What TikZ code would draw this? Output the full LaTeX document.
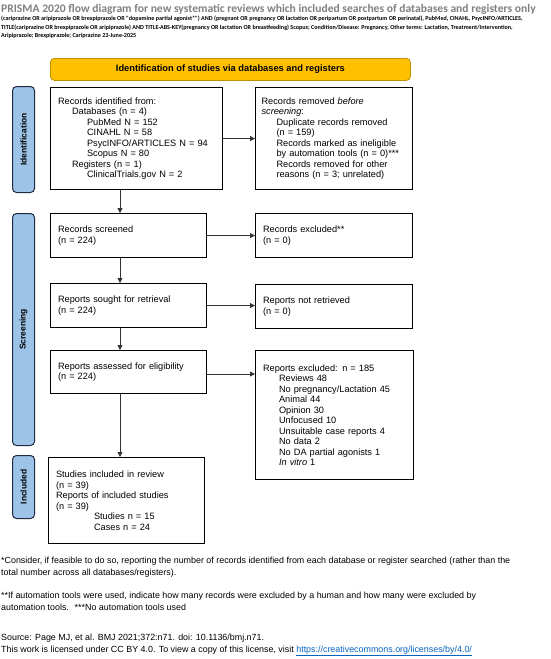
\documentclass[tikz,border=0pt]{standalone}
\usepackage{fontspec}
\setmainfont{Liberation Sans}
\newfontfamily\calib{Carlito}
\usetikzlibrary{arrows.meta}
\definecolor{titlegray}{HTML}{808080}
\definecolor{hdrfill}{HTML}{FFC000}
\definecolor{hdrdraw}{HTML}{BF9000}
\definecolor{barfill}{HTML}{9DC3E6}
\definecolor{bardraw}{HTML}{1F2A44}
\definecolor{linkblue}{HTML}{0563C1}
\definecolor{arrgray}{HTML}{333333}
\begin{document}
\begin{tikzpicture}[x=1pt,y=-1pt,
  box/.style={draw=black, line width=1.1pt, anchor=north west, align=left, inner xsep=7.5pt, inner ysep=3pt,
    font=\fontsize{9.2}{10.5}\selectfont},
  bar/.style={draw=bardraw, fill=barfill, line width=1pt, rounded corners=4pt, anchor=north west,
    minimum width=22, inner sep=0pt},
  barlabel/.style={rotate=90, font=\bfseries\fontsize{8.4}{9}\selectfont},
  arr/.style={draw=arrgray, line width=0.8pt, -{Triangle[length=5pt,width=5pt]}},
  foot/.style={anchor=base west, inner sep=0pt, font=\fontsize{8.9}{10}\selectfont},
  sub/.style={anchor=base west, inner sep=0pt, font=\calib\bfseries\fontsize{6.1}{7}\selectfont}
  ]
\useasboundingbox (0,0) rectangle (550,659);

% title
\node[anchor=base west, inner sep=0pt, text=titlegray, font=\calib\bfseries\fontsize{11.6}{13}\selectfont] (title) at (1,12.5) {PRISMA 2020 flow diagram for new systematic reviews which included searches of databases and registers only};
\node[sub] (s1) at (1,20.5) {(cariprazine OR aripiprazole OR brexpiprazole OR "dopamine partial agonist*") AND (pregnant OR pregnancy OR lactation OR peripartum OR postpartum OR perinatal), PubMed, CINAHL, PsycINFO/ARTICLES,};
\node[sub] (s2) at (1,29) {TITLE(cariprazine OR brexpiprazole OR aripiprazole) AND TITLE-ABS-KEY(pregnancy OR lactation OR breastfeeding) Scopus; Condition/Disease: Pregnancy, Other terms: Lactation, Treatment/Intervention,};
\node[sub] (s3) at (1,37.5) {Aripiprazole; Brexpiprazole; Cariprazine 23-June-2025};

% header
\node[draw=hdrdraw, fill=hdrfill, line width=0.8pt, rounded corners=4pt, anchor=north west,
  minimum width=360, minimum height=22, inner sep=0pt, font=\bfseries\fontsize{9.3}{10}\selectfont] (hdr) at (50,58)
  {Identification of studies via databases and registers};

% side bars
\node[bar, minimum height=106] (bid) at (12,86) {};
\node[barlabel] at (bid.center) {Identification};
\node[bar, minimum height=232] (bsc) at (12,213) {};
\node[barlabel] at (bsc.center) {Screening};
\node[bar, minimum height=63] (bin) at (12,455) {};
\node[barlabel] at (bin.center) {Included};

% left column
\node[box, minimum width=172, minimum height=102, text width=157pt] (id) at (50,87) {%
Records identified from:\\
\hspace*{14pt}Databases (n = 4)\\
\hspace*{29pt}PubMed N = 152\\
\hspace*{29pt}CINAHL N = 58\\
\hspace*{29pt}PsycINFO/ARTICLES N = 94\\
\hspace*{29pt}Scopus N = 80\\
\hspace*{14pt}Registers (n = 1)\\
\hspace*{29pt}ClinicalTrials.gov N = 2};

\node[box, minimum width=156, minimum height=44, text width=141pt] (scr) at (50,213) {Records screened\\(n = 224)};
\node[box, minimum width=156, minimum height=44, text width=141pt] (sou) at (50,283) {Reports sought for retrieval\\(n = 224)};
\node[box, minimum width=156, minimum height=43, text width=141pt] (ass) at (50,350) {Reports assessed for eligibility\\(n = 224)};
\node[box, minimum width=156, minimum height=86, text width=141pt] (inc) at (48,457) {%
Studies included in review\\
(n = 39)\\
Reports of included studies\\
(n = 39)\\
\hspace*{38pt}Studies n = 15\\
\hspace*{38pt}Cases n = 24};

% right column
\node[box, inner xsep=6pt, minimum width=157, minimum height=102, text width=145pt] (rem) at (255,87) {%
Records removed \textit{before}\\
\textit{screening}:\\
\hspace*{15pt}Duplicate records removed\\
\hspace*{15pt}(n = 159)\\
\hspace*{15pt}Records marked as ineligible\\
\hspace*{15pt}by automation tools (n = 0)***\\
\hspace*{15pt}Records removed for other\\
\hspace*{15pt}reasons (n = 3; unrelated)};
\node[box, minimum width=157, minimum height=44, text width=142pt] (exc) at (255,213) {Records excluded**\\(n = 0)};
\node[box, minimum width=157, minimum height=44, text width=142pt] (nre) at (255,284) {Reports not retrieved\\(n = 0)};
\node[box, minimum width=158, minimum height=129, text width=143pt] (rex) at (255,350) {%
Reports excluded: n = 185\\
\hspace*{16pt}Reviews 48\\
\hspace*{16pt}No pregnancy/Lactation 45\\
\hspace*{16pt}Animal 44\\
\hspace*{16pt}Opinion 30\\
\hspace*{16pt}Unfocused 10\\
\hspace*{16pt}Unsuitable case reports 4\\
\hspace*{16pt}No data 2\\
\hspace*{16pt}No DA partial agonists 1\\
\hspace*{16pt}\textit{In vitro} 1};

% arrows
\coordinate (ax) at (120,0);
\draw[arr] (id.south -| ax) -- (scr.north -| ax);
\draw[arr] (scr.south -| ax) -- (sou.north -| ax);
\draw[arr] (sou.south -| ax) -- (ass.north -| ax);
\draw[arr] (ass.south -| ax) -- (inc.north -| ax);
\draw[arr] (id.east) -- (rem.west);
\draw[arr] (scr.east) -- (exc.west);
\draw[arr] (sou.east) -- (nre.west |- sou.east);
\coordinate (ay) at (0,374);
\draw[arr] (ass.east |- ay) -- (rex.west |- ay);

% footnotes
\node[foot] (f1) at (1,563) {*Consider, if feasible to do so, reporting the number of records identified from each database or register searched (rather than the};
\node[foot] (f2) at (1,575) {total number across all databases/registers).};
\node[foot] (f3) at (1,598) {**If automation tools were used, indicate how many records were excluded by a human and how many were excluded by};
\node[foot] (f4) at (1,610) {automation tools. \ ***No automation tools used};
\node[foot] (f5) at (1,640) {Source: Page MJ, et al. BMJ 2021;372:n71. doi: 10.1136/bmj.n71.};
\node[foot] (f6) at (1,652) {This work is licensed under CC BY 4.0. To view a copy of this license, visit \textcolor{linkblue}{\underline{https://creativecommons.org/licenses/by/4.0/}}};
\end{tikzpicture}
\end{document}
